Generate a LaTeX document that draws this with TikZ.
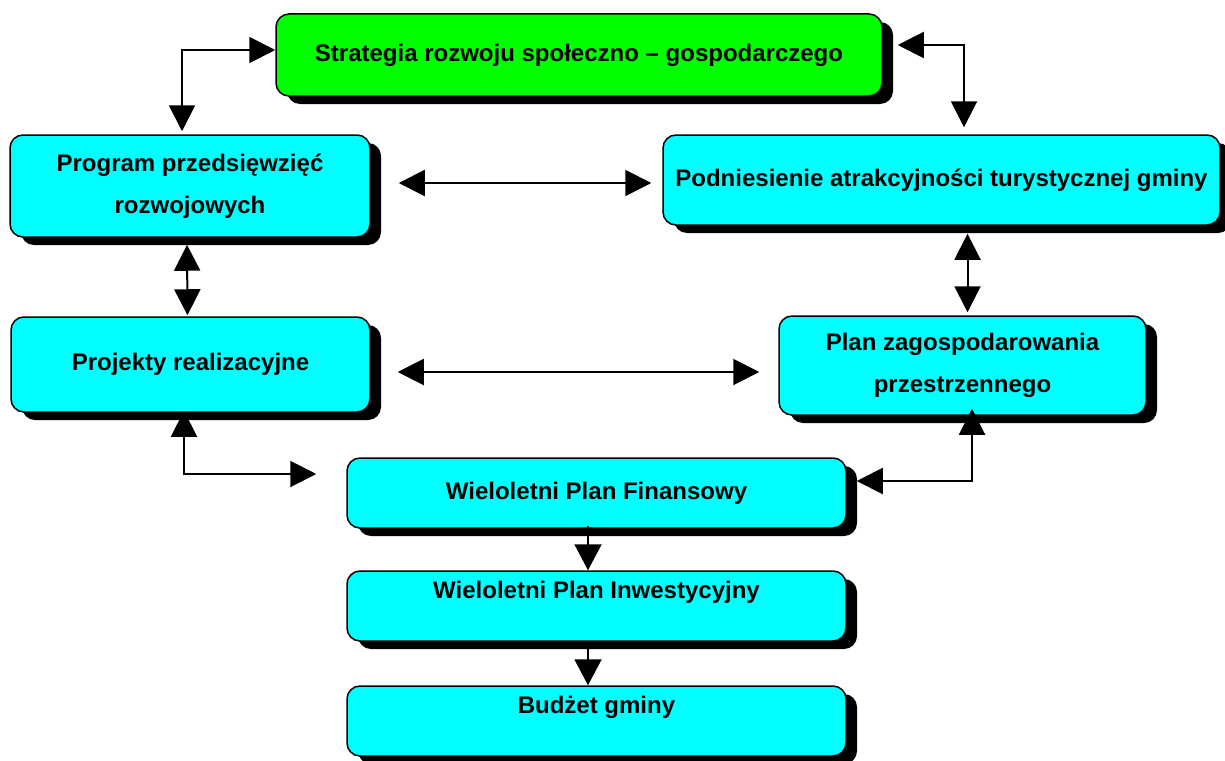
\documentclass[tikz,border=0pt]{standalone}
\usepackage{fontspec}
\setmainfont{Liberation Sans}
\usetikzlibrary{arrows.meta,shadows}
\definecolor{stratgreen}{HTML}{00FF00}
\definecolor{boxcyan}{HTML}{00FFFF}

\begin{document}
\begin{tikzpicture}[x=1pt,y=1pt,
	box/.style={draw=black,line width=1.5pt,rounded corners=13pt,fill=boxcyan,
		drop shadow={shadow xshift=11pt,shadow yshift=-8pt,fill=black,opacity=1},
		align=center,inner sep=0pt,font=\bfseries\fontsize{24}{42}\selectfont},
	toptext/.style={text height=16pt,text depth=32pt},
	dbl/.style={line width=2pt,{Triangle[length=26pt,width=26pt]}-{Triangle[length=26pt,width=26pt]}},
	sgl/.style={line width=2pt,-{Triangle[length=26pt,width=27pt]}}]
		\useasboundingbox (0,0) rectangle (1225,-760);
		
		\node[box,fill=stratgreen,minimum width=606pt,minimum height=82pt] (strat) at (579,-55) {Strategia rozwoju społeczno -- gospodarczego};
		\node[box,minimum width=360pt,minimum height=102pt] (prog) at (190,-186) {Program przedsięwzięć\\rozwojowych};
		\node[box,minimum width=557pt,minimum height=90pt] (podn) at (941.5,-180) {Podniesienie atrakcyjności turystycznej gminy};
		\node[box,minimum width=359pt,minimum height=95pt] (proj) at (190.5,-364.5) {Projekty realizacyjne};
		\node[box,minimum width=367pt,minimum height=99pt] (plan) at (962.5,-365.5) {Plan zagospodarowania\\przestrzennego};
		\node[box,minimum width=499pt,minimum height=70pt] (wpf) at (596.5,-493) {Wieloletni Plan Finansowy};
		\node[box,toptext,minimum width=499pt,minimum height=70pt] (wpi) at (596.5,-606) {Wieloletni Plan Inwestycyjny};
		\node[box,toptext,minimum width=499pt,minimum height=70pt] (budz) at (596.5,-721) {Budżet gminy};
		
		\draw[dbl] ([yshift=5pt]strat.west) -| ([xshift=-8pt,yshift=3pt]prog.north);
		\draw[dbl] ([xshift=15pt,yshift=10pt]strat.east) -| ([xshift=22.5pt,yshift=7pt]podn.north);
		\draw[dbl] ([xshift=28pt,yshift=3pt]prog.east) -- ([xshift=-11pt,yshift=-3pt]podn.west);
		\draw[dbl] ([xshift=-3pt,yshift=-7pt]prog.south) -- ([xshift=-3pt,yshift=1pt]proj.north);
		\draw[dbl] ([xshift=26pt,yshift=-8pt]podn.south) -- ([xshift=5pt,yshift=3pt]plan.north);
		\draw[dbl] ([xshift=27pt,yshift=-7.5pt]proj.east) -- ([xshift=-19pt,yshift=-6.5pt]plan.west);
		\draw[dbl] ([xshift=-6.5pt,yshift=2pt]proj.south) |- ([xshift=-30pt,yshift=19pt]wpf.west);
		\draw[dbl] ([xshift=9.5pt,yshift=7pt]plan.south) |- ([xshift=10pt,yshift=12pt]wpf.east);
		\draw[sgl] ([xshift=-8.5pt,yshift=3pt]wpf.south) -- ([xshift=-8.5pt]wpi.north);
		\draw[sgl] ([xshift=-8.5pt,yshift=1pt]wpi.south) -- ([xshift=-8.5pt]budz.north);
	\end{tikzpicture}
\end{document}
